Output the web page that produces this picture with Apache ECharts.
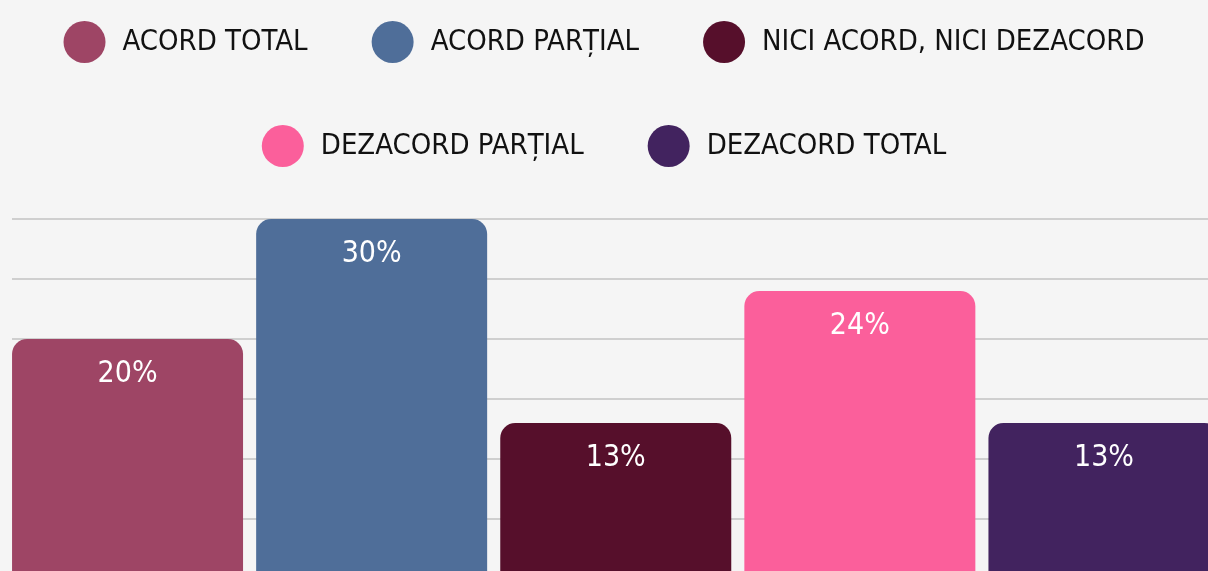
<!DOCTYPE html>
<html>
<head>
<meta charset="utf-8">
<script src="https://cdn.jsdelivr.net/npm/echarts@6/dist/echarts.min.js"></script>
<style>
    html, body { margin: 0; padding: 0; background: #f5f5f5; overflow: hidden; }
    /* chart is a bit larger than the window: the reference crops the bars at the right and bottom */
    #chart { position: absolute; left: -18px; top: 0; width: 1244px; height: 579px; }
</style>
</head>
<body>
<div id="chart"></div>
<script>
var categories = ['ACORD TOTAL', 'ACORD PARȚIAL', 'NICI ACORD, NICI DEZACORD', 'DEZACORD PARȚIAL', 'DEZACORD TOTAL'];
var values = [20, 30, 13, 24, 13];
var colors = ['#9e4565', '#4f6e99', '#560f2b', '#fb5f9b', '#42235f'];

var font = '"DejaVu Sans Condensed", "DejaVu Sans", sans-serif';

var chart = echarts.init(document.getElementById('chart'));

var legendStyle = {
    icon: 'circle',
    itemWidth: 42,
    itemHeight: 42,
    itemGap: 64,
    left: 'center',
    textStyle: {
        fontFamily: font,
        fontSize: 29,
        color: '#111',
        padding: [0, 0, 0, 12]
    }
};

chart.setOption({
    backgroundColor: '#f5f5f5',
    animation: false,
    legend: [
        Object.assign({ top: 16, data: categories.slice(0, 3) }, legendStyle),
        Object.assign({ top: 120, data: categories.slice(3) }, legendStyle)
    ],
    grid: [
        // gridlines only
        { left: 30, right: 0, top: 219, bottom: 0 },
        // bars
        { left: 23.5, right: 0, top: 219, bottom: 0 }
    ],
    xAxis: [
        { gridIndex: 0, type: 'category', data: categories, show: false },
        { gridIndex: 1, type: 'category', data: categories, show: false }
    ],
    yAxis: [
        {
            gridIndex: 0, type: 'value', min: 0, max: 30, interval: 5,
            axisLabel: { show: false }, axisLine: { show: false }, axisTick: { show: false },
            splitLine: { lineStyle: { color: '#c2c2c2', width: 1.5 } }
        },
        {
            gridIndex: 1, type: 'value', min: 0, max: 30, interval: 5,
            show: false, splitLine: { show: false }
        }
    ],
    series: categories.map(function (name, i) {
        return {
            name: name,
            type: 'bar',
            xAxisIndex: 1,
            yAxisIndex: 1,
            stack: 'all',
            barWidth: 231,
            itemStyle: { color: colors[i], borderRadius: [15, 15, 0, 0] },
            label: {
                show: true,
                position: 'insideTop',
                distance: 20,
                formatter: '{c}%',
                color: '#fff',
                fontFamily: font,
                fontSize: 30
            },
            data: values.map(function (v, j) { return j === i ? v : null; })
        };
    })
});
</script>
</body>
</html>
